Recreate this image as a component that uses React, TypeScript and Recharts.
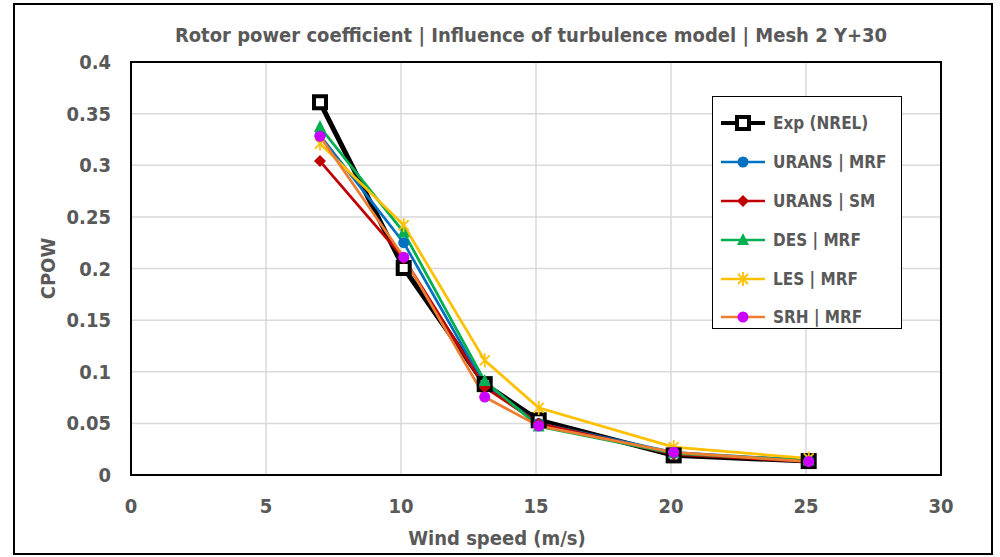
import { LineChart, Line, XAxis, YAxis, CartesianGrid, Legend, ReferenceArea } from 'recharts';

// wind speeds (m/s)
const windSpeed = [7, 10.1, 13.1, 15.1, 20.1, 25.1];

// CPOW per series
const expNrel = [0.361, 0.2005, 0.088, 0.053, 0.019, 0.0135];
const uransMrf = [0.329, 0.225, 0.087, 0.05, 0.022, 0.014];
const uransSm = [0.304, 0.21, 0.085, 0.05, 0.02, 0.013];
const desMrf = [0.337, 0.235, 0.091, 0.047, 0.021, 0.014];
const lesMrf = [0.321, 0.242, 0.111, 0.065, 0.027, 0.016];
const srhMrf = [0.328, 0.211, 0.0755, 0.0475, 0.022, 0.013];

const xTicks = [0, 5, 10, 15, 20, 25, 30];
const yTicks = [0, 0.05, 0.1, 0.15, 0.2, 0.25, 0.3, 0.35, 0.4];

const data = windSpeed.map((x, i) => ({
  x,
  exp: expNrel[i],
  uransMrf: uransMrf[i],
  uransSm: uransSm[i],
  desMrf: desMrf[i],
  lesMrf: lesMrf[i],
  srhMrf: srhMrf[i],
}));

const FONT = '"Liberation Sans Narrow", "DejaVu Sans Condensed", Roboto, sans-serif';
const GREY = '#595959';

type MarkerKind = 'square' | 'circle' | 'diamond' | 'triangle' | 'star' | 'dot';

const Marker = ({ kind, cx, cy, color }: { kind: MarkerKind; cx: number; cy: number; color: string }) => {
  switch (kind) {
    case 'square':
      return <rect x={cx - 6} y={cy - 6} width={12} height={12} fill="#fff" stroke="#000" strokeWidth={4} />;
    case 'circle':
    case 'dot':
      return <circle cx={cx} cy={cy} r={5.5} fill={color} />;
    case 'diamond':
      return <polygon points={`${cx},${cy - 6} ${cx + 6},${cy} ${cx},${cy + 6} ${cx - 6},${cy}`} fill={color} />;
    case 'triangle':
      return <polygon points={`${cx},${cy - 7} ${cx + 6},${cy + 5} ${cx - 6},${cy + 5}`} fill={color} />;
    case 'star':
      return (
        <g stroke={color} strokeWidth={1.8}>
          <line x1={cx - 5} y1={cy - 5} x2={cx + 5} y2={cy + 5} />
          <line x1={cx - 5} y1={cy + 5} x2={cx + 5} y2={cy - 5} />
          <line x1={cx} y1={cy - 7} x2={cx} y2={cy + 7} />
        </g>
      );
  }
  return null;
};

const series = [
  { key: 'exp', name: 'Exp (NREL)', line: '#000000', marker: '#000000', kind: 'square' as MarkerKind, width: 5 },
  { key: 'uransMrf', name: 'URANS | MRF', line: '#0070C0', marker: '#0070C0', kind: 'circle' as MarkerKind, width: 2.75 },
  { key: 'uransSm', name: 'URANS | SM', line: '#C00000', marker: '#C00000', kind: 'diamond' as MarkerKind, width: 2.75 },
  { key: 'desMrf', name: 'DES | MRF', line: '#00B050', marker: '#00B050', kind: 'triangle' as MarkerKind, width: 2.75 },
  { key: 'lesMrf', name: 'LES | MRF', line: '#FFC000', marker: '#FFC000', kind: 'star' as MarkerKind, width: 2.75 },
  { key: 'srhMrf', name: 'SRH | MRF', line: '#ED7D31', marker: '#CC00FF', kind: 'dot' as MarkerKind, width: 2.75 },
];

const LegendBox = () => (
  <div
    style={{
      width: 190,
      height: 233,
      border: '1.5px solid #000',
      background: '#fff',
      boxSizing: 'border-box',
      paddingTop: 7,
    }}
  >
    {series.map((s) => (
      <div key={s.key} style={{ display: 'flex', alignItems: 'center', height: 38.8 }}>
        <svg width={54} height={20} style={{ marginLeft: 6 }}>
          <line x1={2} y1={10} x2={46} y2={10} stroke={s.line} strokeWidth={s.key === 'exp' ? 4 : 2.5} />
          <Marker kind={s.kind} cx={24} cy={10} color={s.marker} />
        </svg>
        <span style={{ fontFamily: FONT, fontWeight: 700, fontSize: 17, color: GREY }}>{s.name}</span>
      </div>
    ))}
  </div>
);

const App = () => {
  return (
    <div style={{ position: 'fixed', left: 0, top: 0, width: 1000, height: 557, background: '#fff' }}>
      <div
        style={{
          position: 'absolute',
          left: 13,
          top: 3,
          width: 980,
          height: 552,
          border: '2px solid #000',
          boxSizing: 'border-box',
        }}
      />
      <div
        style={{
          position: 'absolute',
          left: 0,
          width: 1000,
          top: 23,
          textAlign: 'center',
          fontFamily: FONT,
          fontWeight: 700,
          fontSize: 20,
          color: GREY,
          paddingLeft: 62,
          boxSizing: 'border-box',
        }}
      >
        Rotor power coefficient | Influence of turbulence model | Mesh 2 Y+30
      </div>
      <LineChart
        width={1000}
        height={557}
        data={data}
        margin={{ top: 62, right: 59, left: 60, bottom: 52 }}
        style={{ position: 'absolute', left: 0, top: 0 }}
      >
        <CartesianGrid stroke="#D9D9D9" strokeWidth={1.5} />
        <XAxis
          type="number"
          dataKey="x"
          domain={[0, 30]}
          ticks={xTicks}
          height={30}
          tickLine={false}
          axisLine={false}
          tickSize={0}
          tickMargin={24}
          tick={{ fill: GREY, fontFamily: FONT, fontWeight: 700, fontSize: 20 }}
          label={{
            value: 'Wind speed (m/s)',
            position: 'insideBottom',
            offset: -40,
            dx: -39,
            fill: GREY,
            fontFamily: FONT,
            fontWeight: 700,
            fontSize: 20,
          }}
        />
        <YAxis
          type="number"
          domain={[0, 0.4]}
          ticks={yTicks}
          width={71}
          tickLine={false}
          axisLine={false}
          tickSize={0}
          tickMargin={20}
          tickFormatter={(v: number) => String(Number(v.toFixed(2)))}
          tick={{ fill: GREY, fontFamily: FONT, fontWeight: 700, fontSize: 20 }}
          label={{
            value: 'CPOW',
            angle: -90,
            position: 'insideLeft',
            offset: -12,
            fill: GREY,
            fontFamily: FONT,
            fontWeight: 700,
            fontSize: 20,
            style: { textAnchor: 'middle' },
          }}
        />
        <ReferenceArea x1={0} x2={30} y1={0} y2={0.4} fill="none" stroke="#000" strokeWidth={2} ifOverflow="visible" />
        {series.map((s) => (
          <Line
            key={s.key}
            type="linear"
            dataKey={s.key}
            name={s.name}
            stroke={s.line}
            strokeWidth={s.width}
            isAnimationActive={false}
            dot={(p: any) => <Marker key={`${s.key}-${p.index}`} kind={s.kind} cx={p.cx} cy={p.cy} color={s.marker} />}
            activeDot={false}
          />
        ))}
        <Legend
          layout="vertical"
          verticalAlign="middle"
          align="center"
          content={() => <LegendBox />}
          wrapperStyle={{ left: 712, top: 96, width: 190 }}
        />
      </LineChart>
    </div>
  );
};

export default App;
